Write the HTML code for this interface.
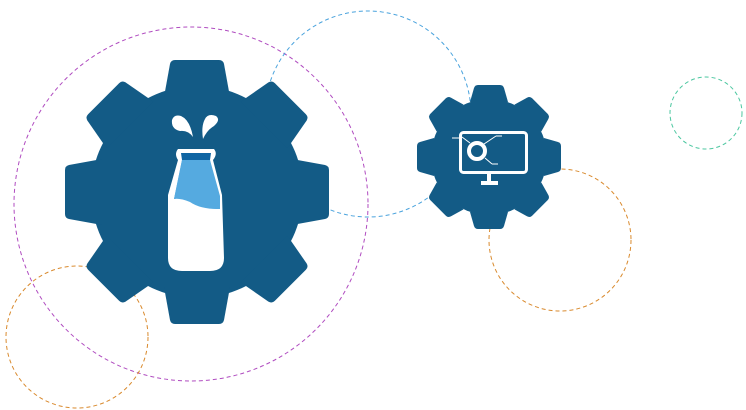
<!DOCTYPE html>
<html><head><style>body{margin:0;background:#fff}svg{display:block}</style></head><body>
<svg width="746" height="410" viewBox="0 0 746 410" xmlns="http://www.w3.org/2000/svg">
<g fill="none" stroke-width="1" stroke-dasharray="4,3">
<circle cx="191" cy="204" r="177" stroke="#b04cc0"/>
<circle cx="368" cy="114" r="103" stroke="#4aa3dd"/>
<circle cx="77" cy="337" r="71" stroke="#d98a2e"/>
<circle cx="560" cy="240" r="71" stroke="#d98a2e"/>
<circle cx="706" cy="113" r="36" stroke="#4cc7a0"/>
</g>
<defs>
<path id="tb" d="M-33,-95 L-27,-128 Q-26,-132 -22,-132 L22,-132 Q26,-132 27,-128 L33,-95 Z"/>
<path id="ts" d="M-19,-55 L-15,-69 Q-14,-72 -11,-72 L11,-72 Q14,-72 15,-69 L19,-55 Z"/>
</defs>
<g transform="translate(197,192)" fill="#135b86">
<circle r="106"/>
<use href="#tb"/><use href="#tb" transform="rotate(45)"/><use href="#tb" transform="rotate(90)"/><use href="#tb" transform="rotate(135)"/>
<use href="#tb" transform="rotate(180)"/><use href="#tb" transform="rotate(225)"/><use href="#tb" transform="rotate(270)"/><use href="#tb" transform="rotate(315)"/>
</g>
<g transform="translate(489,157)" fill="#135b86">
<circle r="58"/>
<use href="#ts"/><use href="#ts" transform="rotate(45)"/><use href="#ts" transform="rotate(90)"/><use href="#ts" transform="rotate(135)"/>
<use href="#ts" transform="rotate(180)"/><use href="#ts" transform="rotate(225)"/><use href="#ts" transform="rotate(270)"/><use href="#ts" transform="rotate(315)"/>
</g>
<!-- bottle -->
<path d="M178,149 L214,149 Q218,154 213,160 L222,195 L224,258 Q224,271 210,271 L182,271 Q168,271 168,258 L168,195 L178,160 Q174,154 178,149 Z" fill="#fff"/>
<path d="M181,153 L211,153 L210,160 L182,160 Z" fill="#0f65a3"/>
<path d="M182,160 L210,160 L218,202 L218,209 Q200,209 190,202 Q180,198 174,199 Z" fill="#55aae0"/>
<path d="M174,199 Q182,197 192,202 Q205,209 218,209 L220,209 L220,196 L210,160 L182,160 Z" fill="#55aae0"/>
<path d="M172,120 Q174,114 181,116 Q190,120 193,137 Q188,130 180,131 Q171,129 172,120 Z" fill="#fff"/>
<path d="M205,119 Q208,113 216,116 Q221,120 214,126 Q207,130 203,139 Q201,126 205,119 Z" fill="#fff"/>
<!-- monitor -->
<rect x="460.5" y="132.5" width="66" height="40" rx="3" fill="none" stroke="#fff" stroke-width="3"/>
<rect x="487" y="173" width="4" height="9" fill="#fff"/>
<rect x="481" y="181" width="17" height="4" fill="#fff"/>
<circle cx="477" cy="151" r="8" fill="none" stroke="#fff" stroke-width="4"/>
<g stroke="#fff" stroke-width="1">
<line x1="470" y1="143" x2="462" y2="137"/><line x1="484" y1="144" x2="496" y2="136"/><line x1="485" y1="158" x2="492" y2="164"/>
<line x1="452" y1="138" x2="462" y2="138"/><line x1="496" y1="136" x2="502" y2="136"/><line x1="492" y1="164" x2="498" y2="164"/>
</g>
</svg>
</body></html>
